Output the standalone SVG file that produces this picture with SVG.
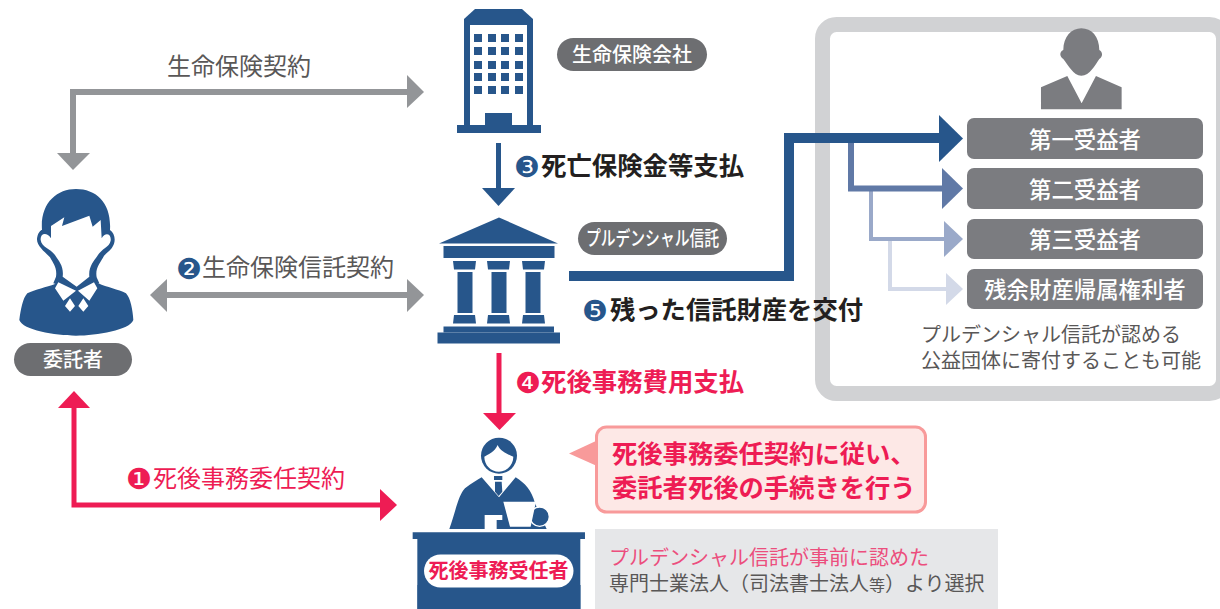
<svg xmlns="http://www.w3.org/2000/svg" width="1220" height="609" viewBox="0 0 1220 609">
<style>
text{font-family:"Noto Sans CJK JP","Noto Sans",sans-serif}
.blue{fill:#27568b}
.pill{fill:#6d6e71}
.box{fill:#7b7c80}
.w{fill:#fff;text-anchor:middle;font-weight:500}
.dk{fill:#595757}
.bk{fill:#231f20;font-weight:700}
.red{fill:#ee1c54}
.n{font-family:"DejaVu Sans",sans-serif}
.gl{fill:none;stroke:#939598;stroke-width:6}
.gh{fill:#939598}
</style>
<rect width="1220" height="609" fill="#fff"/>
<g id="beneficiary-frame">
<rect x="822.500" y="24.500" width="401" height="369" rx="14" fill="#fff" stroke="#d1d2d4" stroke-width="15"/>
</g>
<g id="connectors">
<path class="gl" d="M408,92H73V155"/>
<polygon class="gh" points="407,75 424,92 407,108"/>
<polygon class="gh" points="57,153 90,153 73,170"/>
<path class="gl" d="M165,295H408"/>
<polygon class="gh" points="167,279 150,295 167,312"/>
<polygon class="gh" points="407,279 424,295 407,312"/>
<path d="M498.500,143V190" fill="none" stroke="#27568b" stroke-width="5"/>
<polygon class="blue" points="482,188 515,188 498.500,206"/>
<path d="M499,353V415" fill="none" stroke="#ee1c54" stroke-width="5"/>
<polygon class="red" points="483,413 516,413 499.500,430"/>
<path d="M74,406V505H382" fill="none" stroke="#ee1c54" stroke-width="5"/>
<polygon class="red" points="58,408 90,408 74,391"/>
<polygon class="red" points="380,489 397,505 380,521"/>
<path d="M890,240V289H948" fill="none" stroke="#d3d9e8" stroke-width="4"/>
<polygon fill="#d3d9e8" points="946,273 963,289 946,305"/>
<path d="M871,190V239H946" fill="none" stroke="#9aa9c9" stroke-width="4"/>
<polygon fill="#9aa9c9" points="944,221 963,239 944,257"/>
<path d="M851,142V188.500H944" fill="none" stroke="#6079a6" stroke-width="6"/>
<polygon fill="#6079a6" points="942,168 963,188.500 942,209"/>
<path d="M569,276H789V138H941" fill="none" stroke="#27568b" stroke-width="10"/>
<polygon class="blue" points="939,115 963,138.500 939,162"/>
</g>
<g id="settlor">
<g transform="translate(0,170) scale(0.3333)">
<path class="blue" d="M58,450C62,420 68,385 82,370C105,358 140,352 165,342L295,340C320,352 355,358 378,370C392,385 398,420 400,450C390,480 290,497 228,497C165,497 68,480 58,450Z"/>
<path class="blue" d="M126,180C120,100 170,57 228,57C290,57 335,100 330,180C345,190 350,215 335,235C325,248 315,250 308,265C300,280 285,295 290,322L298,340L230,362L160,340L168,320C172,295 160,280 150,262C135,245 105,225 112,200C115,185 125,178 126,180Z"/>
<path fill="#fff" d="M153,168L193,142L186,168L268,137L278,170L302,150L305,205C315,185 335,190 332,212C328,232 305,235 292,258C282,272 265,290 268,320L230,350L188,320C192,290 178,275 165,255C150,235 125,232 122,210C120,190 140,185 153,205Z"/>
<path fill="#fff" d="M175,337L228,362L190,392L165,355ZM282,337L234,362L268,392L292,355ZM210,385L225,408L210,425L195,408ZM250,385L265,408L250,425L235,408Z"/>
</g>
<rect class="pill" x="14" y="343" width="118" height="33" rx="16.500"/>
<text class="w" x="73" y="367" font-size="20">委託者</text>
</g>
<g id="insurer">
<path class="blue" d="M464,133V19L475,9H522L533,19V133Z"/>
<rect x="470" y="25" width="57" height="100" fill="#fff"/>
<rect class="blue" x="457" y="125" width="84" height="8"/>
<rect class="blue" x="485" y="113" width="27" height="12"/>
<path class="blue" d="M474,34h8v8h-8zM488,34h8v8h-8zM501,34h8v8h-8zM515,34h8v8h-8zM474,47h8v8h-8zM488,47h8v8h-8zM501,47h8v8h-8zM515,47h8v8h-8zM474,61h8v8h-8zM488,61h8v8h-8zM501,61h8v8h-8zM515,61h8v8h-8zM474,73h8v8h-8zM488,73h8v8h-8zM501,73h8v8h-8zM515,73h8v8h-8zM474,86h8v8h-8zM488,86h8v8h-8zM501,86h8v8h-8zM515,86h8v8h-8z"/>
<rect class="pill" x="557" y="38" width="150" height="33" rx="16.500"/>
<text class="w" x="632" y="62" font-size="20">生命保険会社</text>
</g>
<g id="trust">
<polygon class="blue" points="439,243.500 499,217.500 558,243.500"/>
<rect class="blue" x="443.500" y="246" width="111" height="12"/>
<path class="blue" d="M453,261h23l-1,8.500h-21zM487,261h23l-1,8.500h-21zM522,261h23l-1,8.500h-21z"/>
<rect class="blue" x="457.500" y="272" width="15" height="41"/>
<rect class="blue" x="491.500" y="272" width="15" height="41"/>
<rect class="blue" x="525.500" y="272" width="15" height="41"/>
<path class="blue" d="M454,315h21l1,8.500h-23zM488,315h21l1,8.500h-23zM523,315h21l1,8.500h-23z"/>
<rect class="blue" x="443.500" y="326.500" width="110.500" height="6"/>
<rect class="blue" x="437.500" y="332.500" width="122.500" height="11"/>
<rect class="pill" x="578" y="222" width="149" height="33" rx="16.500"/>
<text fill="#fff" font-weight="500" x="586" y="246" font-size="20" textLength="133" lengthAdjust="spacingAndGlyphs">プルデンシャル信託</text>
</g>
<g id="agent">
<g transform="translate(400,420) scale(0.3333)">
<circle class="blue" cx="297" cy="107" r="54"/>
<path fill="#fff" d="M253,110C262,105 285,95 293,75C300,95 330,105 340,110C340,135 320,155 297,155C272,155 253,135 253,110Z"/>
<path class="blue" d="M148,327C165,280 175,225 195,205C215,190 230,180 245,172L297,232L347,172C375,190 395,210 405,250L440,327Z"/>
<path class="blue" d="M282,168H307V180H282ZM285,185H305L307,215L296,228L285,215Z"/>
<circle class="blue" cx="419" cy="290" r="29" stroke="#fff" stroke-width="4"/>
<polygon fill="#fff" points="310,245 408,245 392,320 330,320"/>
<path fill="#fff" d="M254,285H307V300H290V327H254Z"/>
<path class="blue" d="M38,337H555V357H541V567H52V357H38Z"/>
</g>
<rect class="blue" x="417.500" y="585" width="163" height="24"/>
<rect x="424" y="554.500" width="149.500" height="33" rx="16.500" fill="#fff"/>
<text class="red" x="498.500" y="578" font-size="20" font-weight="700" text-anchor="middle">死後事務受任者</text>
</g>
<g id="callout">
<polygon fill="#f89a9a" points="569,453.500 597,440.500 597,466"/>
<rect x="596.500" y="427" width="329" height="85" rx="10" fill="#fde8e6" stroke="#f89a9a" stroke-width="3"/>
<text class="red" x="612" y="463" font-size="25.300" font-weight="700">死後事務委任契約に従い、</text>
<text class="red" x="612" y="497" font-size="25.300" font-weight="700">委託者死後の手続きを行う</text>
</g>
<g id="selection-note">
<rect x="595" y="529" width="403" height="80" fill="#e6e7e9"/>
<text x="609" y="565" font-size="20" fill="#ec4e7d">プルデンシャル信託が事前に認めた</text>
<text x="609" y="591" font-size="20" fill="#595757">専門士業法人（司法書士法人<tspan font-size="16">等</tspan>）より選択</text>
</g>
<g id="beneficiaries">
<g transform="translate(780,10) scale(0.3333)">
<path class="box" d="M850,120C850,80 875,55 904,55C935,55 958,80 958,120C968,125 970,140 958,147C945,165 930,197 904,197C880,197 865,165 850,147C838,140 838,125 850,120Z"/>
<path class="box" d="M783,232L862,198L905,280L948,198L1025,232V298H783Z"/>
</g>
<g id="b1"><rect class="box" x="967" y="118" width="236" height="41" rx="7"/><text class="w" x="1085" y="148" font-size="22.400">第一受益者</text></g>
<g id="b2"><rect class="box" x="967" y="168" width="236" height="41" rx="7"/><text class="w" x="1085" y="198" font-size="22.400">第二受益者</text></g>
<g id="b3"><rect class="box" x="967" y="219" width="236" height="40" rx="7"/><text class="w" x="1085" y="248" font-size="22.400">第三受益者</text></g>
<g id="b4"><rect class="box" x="967" y="269" width="236" height="40" rx="7"/><text class="w" x="1085" y="298" font-size="22.400">残余財産帰属権利者</text></g>
<text class="dk" x="921" y="342" font-size="20">プルデンシャル信託が認める</text>
<text class="dk" x="921" y="368" font-size="20">公益団体に寄付することも可能</text>
</g>
<g id="labels">
<text class="dk" x="167" y="75" font-size="24">生命保険契約</text>
<text x="176" y="279" font-size="29" class="n" fill="#27568b">❷</text>
<text class="dk" x="202" y="276" font-size="24">生命保険信託契約</text>
<text x="514" y="177" font-size="29" class="n" fill="#27568b">❸</text>
<text class="bk" x="541" y="175" font-size="25.400">死亡保険金等支払</text>
<text x="582" y="321" font-size="29" class="n" fill="#27568b">❺</text>
<text class="bk" x="610" y="319" font-size="25.300">残った信託財産を交付</text>
<text x="515" y="393" font-size="29" class="n red">❹</text>
<text class="red" x="541" y="391" font-size="25.400" font-weight="700">死後事務費用支払</text>
<text x="126" y="489" font-size="29" class="n red">❶</text>
<text class="red" x="153" y="487" font-size="24">死後事務委任契約</text>
</g>
</svg>
